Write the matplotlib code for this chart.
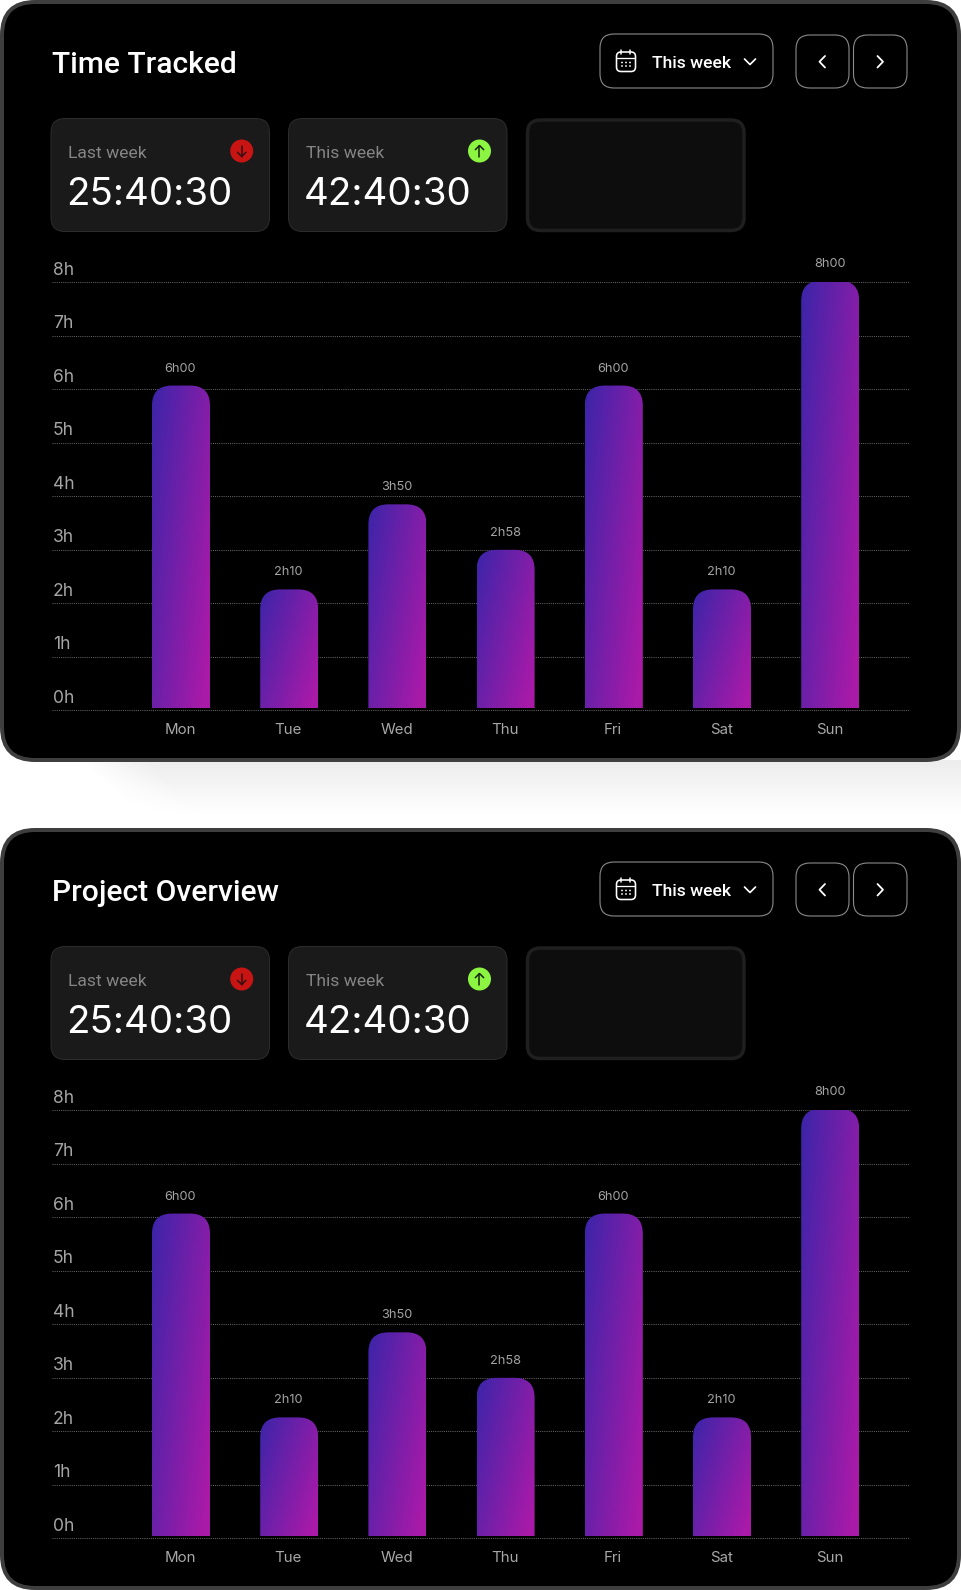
import matplotlib
matplotlib.use("Agg")
import matplotlib.pyplot as plt
import numpy as np
from matplotlib.colors import LinearSegmentedColormap
from matplotlib.patches import Circle, FancyBboxPatch
from matplotlib.path import Path

# values
titles = ["Time Tracked", "Project Overview"]
days = ["Mon", "Tue", "Wed", "Thu", "Fri", "Sat", "Sun"]
hours = [6.07, 2.26, 3.85, 3.0, 6.07, 2.26, 8.03]
bar_labels = ["6h00", "2h10", "3h50", "2h58", "6h00", "2h10", "8h00"]
hour_ticks = [0, 1, 2, 3, 4, 5, 6, 7, 8]
hour_labels = ["0h", "1h", "2h", "3h", "4h", "5h", "6h", "7h", "8h"]
last_week = "25:40:30"
this_week = "42:40:30"

W = 962
H = 1590
PANEL_STEP = 828
FONT = "Inter"
HEAD_FONT = "Roboto"
BAR_BASE = 0.04
grad = LinearSegmentedColormap.from_list("bars", ["#3b25a9", "#aa1aa8"])

fig = plt.figure(figsize=(W / 100, H / 100), dpi=100, facecolor="white")
bg = fig.add_axes([0, 0, 1, 1])
bg.set_xlim(0, W)
bg.set_ylim(H, 0)
bg.axis("off")


def px(n):
    return n * 0.72


def rbox(x0, y0, x1, y1, r, fc, ec, lw, z=2):
    p = FancyBboxPatch((x0, y0), x1 - x0, y1 - y0, boxstyle=f"round,pad=0,rounding_size={r}",
                       fc=fc, ec=ec, lw=px(lw), zorder=z)
    bg.add_patch(p)


def stroke(xs, ys, color="white", lw=1.8, z=5):
    bg.plot(xs, ys, color=color, lw=px(lw), solid_capstyle="round", solid_joinstyle="round", zorder=z)


def label(x, y, s, size, color="white", weight="normal", ha="left", z=6, family=FONT):
    bg.text(x, y, s, fontsize=px(size), color=color, family=family, weight=weight,
            ha=ha, va="baseline", zorder=z)


def bar_clip(x0, x1, y0, y1, rx, ry):
    verts = [(x0, y0), (x0, y1 - ry), (x0, y1), (x0 + rx, y1), (x1 - rx, y1), (x1, y1),
             (x1, y1 - ry), (x1, y0), (x0, y0)]
    codes = [Path.MOVETO, Path.LINETO, Path.CURVE3, Path.CURVE3, Path.LINETO, Path.CURVE3,
             Path.CURVE3, Path.LINETO, Path.CLOSEPOLY]
    return Path(verts, codes)


def draw_chart(off):
    left, right, top, bottom = 52, 909, 282.3 + off, 710.3 + off
    ax = fig.add_axes([left / W, 1 - bottom / H, (right - left) / W, (bottom - top) / H], zorder=3)
    ax.patch.set_visible(False)
    for s in ax.spines.values():
        s.set_visible(False)

    step = 108.2
    x = np.arange(len(days))
    xlim = ((left - 181) / step, (right - 181) / step)
    bars = ax.bar(x, np.array(hours) - BAR_BASE, width=58 / step, bottom=BAR_BASE, color="none", zorder=3)

    uu, vv = np.meshgrid(np.linspace(0, 1, 80), np.linspace(0, 1, 200))
    shade = np.clip(0.65 * uu + 0.42 * vv, 0, 1)
    for rect, lab in zip(bars, bar_labels):
        x0, x1 = rect.get_x(), rect.get_x() + rect.get_width()
        y0, y1 = rect.get_y(), rect.get_y() + rect.get_height()
        im = ax.imshow(shade, cmap=grad, vmin=0, vmax=1, extent=(x0, x1, y0, y1),
                       aspect="auto", zorder=3, interpolation="bilinear")
        im.set_clip_path(bar_clip(x0, x1, y0, y1, 20 / step, 20 / 53.5), transform=ax.transData)
        ax.annotate(lab, ((x0 + x1) / 2, y1), xytext=(-0.5, 14), textcoords="offset pixels",
                    ha="center", va="baseline", fontsize=px(12.8), color="#a3a3a3", family=FONT,
                    annotation_clip=False)

    ax.set_xlim(xlim)
    ax.set_ylim(0, 8)
    ax.set_yticks(hour_ticks)
    ax.set_xticks(x - 0.008)
    ax.set_xticklabels(days, fontsize=px(15), color="#a8a8a8", family=FONT)
    ax.tick_params(axis="x", length=0, pad=px(13))
    ax.tick_params(axis="y", length=0, labelleft=False)
    ax.grid(axis="y", color="#6a6a6a", lw=0.7, ls=(0, (1, 1.2)), clip_on=False)
    ax.set_axisbelow(True)
    for v, lab in zip(hour_ticks, hour_labels):
        ax.annotate(lab, (0, v), xycoords=("axes fraction", "data"), xytext=(1, 7.5),
                    textcoords="offset pixels", ha="left", va="baseline",
                    fontsize=px(17.5), color="#a5a5a5", family=FONT, annotation_clip=False)


def draw_panel(off, title):
    rbox(2, 2 + off, 959, 760 + off, 33, "black", "#3e3e3e", 4, z=1)
    label(52.5, 73 + off, title, 30, weight="medium", family=HEAD_FONT)

    # dropdown
    rbox(600, 34 + off, 773, 88 + off, 14, "black", "#8c8c8c", 1.1)
    rbox(616.5, 52 + off, 635.5, 71.5 + off, 4.5, "none", "white", 1.6, z=5)
    stroke([617, 635], [57.5 + off, 57.5 + off], lw=1.3)
    stroke([621.5, 621.5], [50 + off, 53.5 + off], lw=1.5)
    stroke([630.5, 630.5], [50 + off, 53.5 + off], lw=1.5)
    for dx in [622, 626, 630]:
        for dy in [62.5, 66]:
            bg.add_patch(Circle((dx, dy + off), 0.9, fc="white", ec="none", zorder=5))
    label(652, 68.5 + off, "This week", 17.5, weight="medium", family=HEAD_FONT)
    stroke([744.5, 750, 755.5], [59 + off, 64.5 + off, 59 + off], lw=1.7)

    # prev / next
    rbox(796, 35 + off, 849, 88 + off, 14, "black", "#8c8c8c", 1.1)
    rbox(853.5, 35 + off, 907, 88 + off, 14, "black", "#8c8c8c", 1.1)
    stroke([825, 819.5, 825], [56 + off, 61.7 + off, 67.5 + off], lw=1.8)
    stroke([877.5, 883, 877.5], [56 + off, 61.7 + off, 67.5 + off], lw=1.8)

    # summary cards
    rbox(51, 118.5 + off, 269.5, 231.5 + off, 14, "#1a1a1a", "#2c2c2c", 1)
    rbox(288.5, 118.5 + off, 507, 231.5 + off, 14, "#1a1a1a", "#2c2c2c", 1)
    rbox(527.5, 120 + off, 744, 230.5 + off, 13, "#0d0d0d", "#1f1f1f", 3.5)

    label(68.5, 157.5 + off, "Last week", 17.5, color="#858585", family=HEAD_FONT)
    label(306, 157.5 + off, "This week", 17.5, color="#858585", family=HEAD_FONT)
    label(66.5, 205 + off, last_week, 38.5)
    label(303.5, 205 + off, this_week, 38.5)

    bg.add_patch(Circle((241.7, 151 + off), 11.5, fc="#c91414", ec="none", zorder=4))
    stroke([241.7, 241.7], [145.5 + off, 156.5 + off], color="#301010", lw=1.5)
    stroke([237.5, 241.7, 245.9], [152.3 + off, 156.5 + off, 152.3 + off], color="#301010", lw=1.5)
    bg.add_patch(Circle((479.5, 151 + off), 11.5, fc="#8cf542", ec="none", zorder=4))
    stroke([479.5, 479.5], [145.5 + off, 156.5 + off], color="#12200a", lw=1.5)
    stroke([475.3, 479.5, 483.7], [149.7 + off, 145.5 + off, 149.7 + off], color="#12200a", lw=1.5)

    draw_chart(off)


# soft shadow under the first panel
yy, xx = np.mgrid[760:820, 60:W]
fade_y = np.clip((816 - yy) / 52.0, 0, 1)
fade_x = np.clip((xx - 78 - (yy - 762) * 1.0) / 70.0, 0, 1)
glow = 255 - 18 * fade_y * fade_x
bg.imshow(glow, cmap="gray", vmin=0, vmax=255, extent=(60, W, 820, 760), aspect="auto", zorder=0)
bg.set_xlim(0, W)
bg.set_ylim(H, 0)

for i, t in enumerate(titles):
    draw_panel(i * PANEL_STEP, t)

fig.savefig("out.png", dpi=100, facecolor="white")
